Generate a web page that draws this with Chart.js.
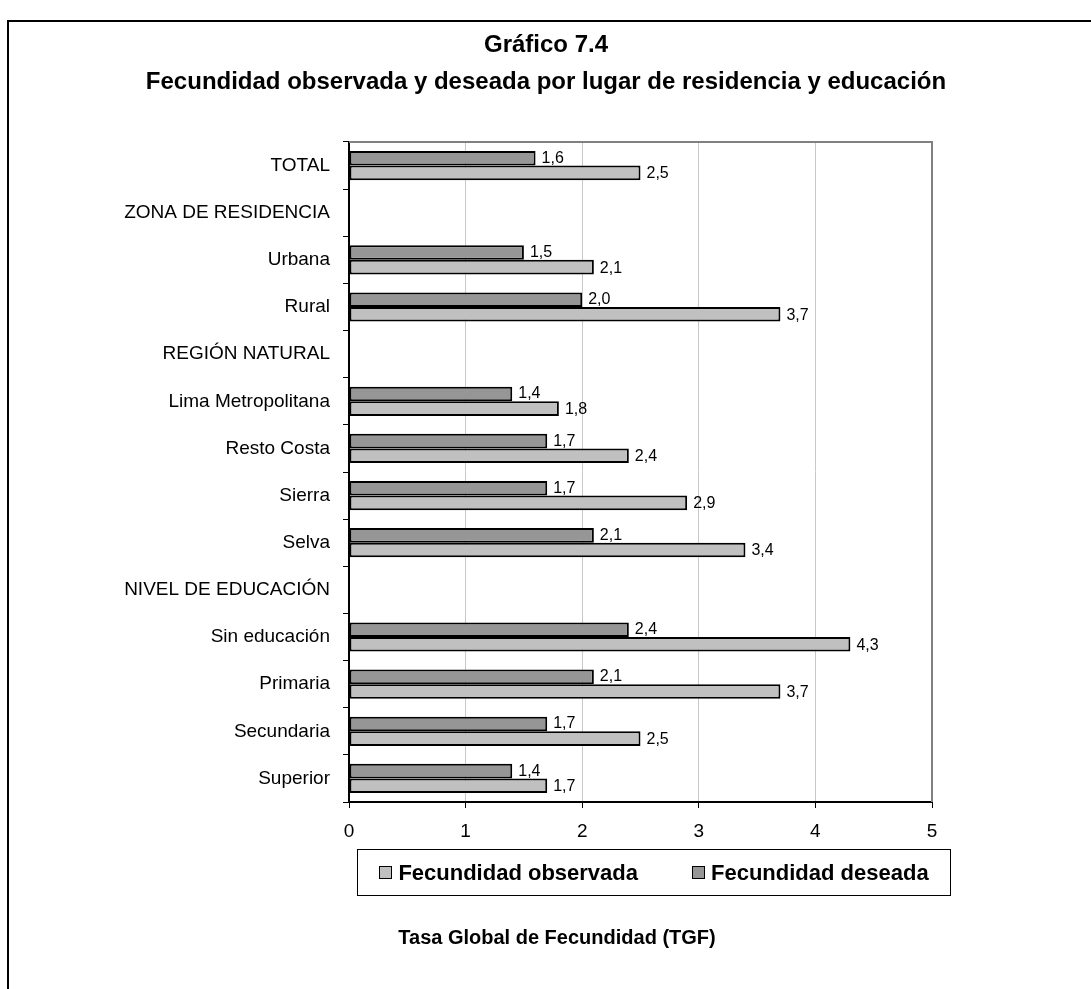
<!DOCTYPE html>
<html>
<head>
<meta charset="utf-8">
<script src="https://cdn.jsdelivr.net/npm/chart.js@4.4.1/dist/chart.umd.min.js"></script>
<style>
  html, body { margin: 0; padding: 0; background: #fff; overflow: hidden; }
  body { width: 1091px; height: 989px; position: relative; font-family: "Liberation Sans", Arial, sans-serif; color: #000; }
  #frame { position: absolute; left: 7px; top: 20px; width: 1200px; height: 1200px; border: 2px solid #000; }
  #chart { position: absolute; left: 0; top: 0; }
  .title { position: absolute; left: 0; width: 1092px; text-align: center; font-weight: bold; font-size: 24px; line-height: 28px; white-space: nowrap; }
  #t1 { top: 30px; }
  #t2 { top: 67px; }
  #legend { position: absolute; left: 357px; top: 849px; width: 592px; height: 45px; border: 1.5px solid #000;
            display: flex; justify-content: center; align-items: center; gap: 54px; font-weight: bold; font-size: 22px; }
  #legend .item { display: flex; align-items: center; }
  #legend .sw { width: 11px; height: 11px; border: 1px solid #000; margin-right: 6px; }
  #xtitle { position: absolute; left: 0; width: 1114px; top: 925px; line-height: 24px; text-align: center; font-weight: bold; font-size: 20px; }
</style>
</head>
<body>
<div id="frame"></div>
<canvas id="chart" width="1091" height="989"></canvas>
<div class="title" id="t1">Gráfico 7.4</div>
<div class="title" id="t2">Fecundidad observada y deseada por lugar de residencia y educación</div>
<div id="legend"></div>
<div id="xtitle">Tasa Global de Fecundidad (TGF)</div>
<script>
// Fecundidad observada y deseada (TGF)
const categories = ['TOTAL', 'ZONA DE RESIDENCIA', 'Urbana', 'Rural', 'REGIÓN NATURAL',
    'Lima Metropolitana', 'Resto Costa', 'Sierra', 'Selva', 'NIVEL DE EDUCACIÓN',
    'Sin educación', 'Primaria', 'Secundaria', 'Superior'];
const observada = [2.5, null, 2.1, 3.7, null, 1.8, 2.4, 2.9, 3.4, null, 4.3, 3.7, 2.5, 1.7];
const deseada = [1.6, null, 1.5, 2.0, null, 1.4, 1.7, 1.7, 2.1, null, 2.4, 2.1, 1.7, 1.4];
const xTicks = [0, 1, 2, 3, 4, 5];

const FONT = '"Liberation Sans", Arial, sans-serif';
const COLOR_OBS = '#c0c0c0';
const COLOR_DES = '#969696';

// legend (observada first, like the original)
const legendItems = [
    { label: 'Fecundidad observada', color: COLOR_OBS },
    { label: 'Fecundidad deseada', color: COLOR_DES }
];
document.getElementById('legend').innerHTML = legendItems.map(it =>
    '<div class="item"><span class="sw" style="background:' + it.color + '"></span>' + it.label + '</div>'
).join('');

// gray frame on top and right of the plot area
const plotFrame = {
    id: 'plotFrame',
    beforeDatasetsDraw(chart) {
        const a = chart.chartArea, ctx = chart.ctx;
        ctx.save();
        ctx.strokeStyle = '#808080';
        ctx.lineWidth = 2;
        ctx.beginPath();
        ctx.moveTo(a.left, a.top);
        ctx.lineTo(a.right, a.top);
        ctx.lineTo(a.right, a.bottom);
        ctx.stroke();
        ctx.restore();
    }
};

// value labels with decimal comma
const valueLabels = {
    id: 'valueLabels',
    afterDatasetsDraw(chart) {
        const ctx = chart.ctx;
        ctx.save();
        ctx.font = '16px ' + FONT;
        ctx.fillStyle = '#000';
        ctx.textAlign = 'left';
        ctx.textBaseline = 'middle';
        chart.data.datasets.forEach((ds, i) => {
            chart.getDatasetMeta(i).data.forEach((bar, j) => {
                const v = ds.data[j];
                if (v === null) return;
                ctx.fillText(v.toFixed(1).replace('.', ','), bar.x + 6, bar.y + (i === 0 ? 0 : 1));
            });
        });
        ctx.restore();
    }
};

new Chart(document.getElementById('chart'), {
    type: 'bar',
    data: {
        labels: categories,
        datasets: [{
            label: 'Fecundidad deseada',
            data: deseada,
            backgroundColor: COLOR_DES,
            borderColor: '#000',
            borderWidth: 2,
            borderSkipped: false
        }, {
            label: 'Fecundidad observada',
            data: observada,
            backgroundColor: COLOR_OBS,
            borderColor: '#000',
            borderWidth: 2,
            borderSkipped: false
        }]
    },
    options: {
        indexAxis: 'y',
        responsive: false,
        animation: false,
        devicePixelRatio: 1,
        categoryPercentage: 0.62,
        barPercentage: 1.0,
        layout: { padding: { left: 0, top: 142, right: 159, bottom: 127 } },
        plugins: {
            legend: { display: false },
            title: { display: false },
            tooltip: { enabled: false }
        },
        scales: {
            y: {
                afterFit(scale) { scale.width = 349; },
                grid: { drawOnChartArea: false, tickLength: 6, tickColor: '#000', lineWidth: 1 },
                border: { color: '#000', width: 2 },
                ticks: { color: '#000', padding: 13, font: { family: FONT, size: 19 } }
            },
            x: {
                min: 0,
                max: 5,
                afterFit(scale) { scale.height = 60; },
                afterBuildTicks(scale) { scale.ticks = xTicks.map(v => ({ value: v })); },
                grid: {
                    color: ctx => (ctx.tick && ctx.tick.value > 0 && ctx.tick.value < 5) ? '#c8c8c8' : 'rgba(0,0,0,0)',
                    tickColor: '#000',
                    tickLength: 6,
                    lineWidth: 1
                },
                border: { color: '#000', width: 2 },
                ticks: { color: '#000', padding: 12, font: { family: FONT, size: 19 } }
            }
        }
    },
    plugins: [plotFrame, valueLabels]
});
</script>
</body>
</html>
